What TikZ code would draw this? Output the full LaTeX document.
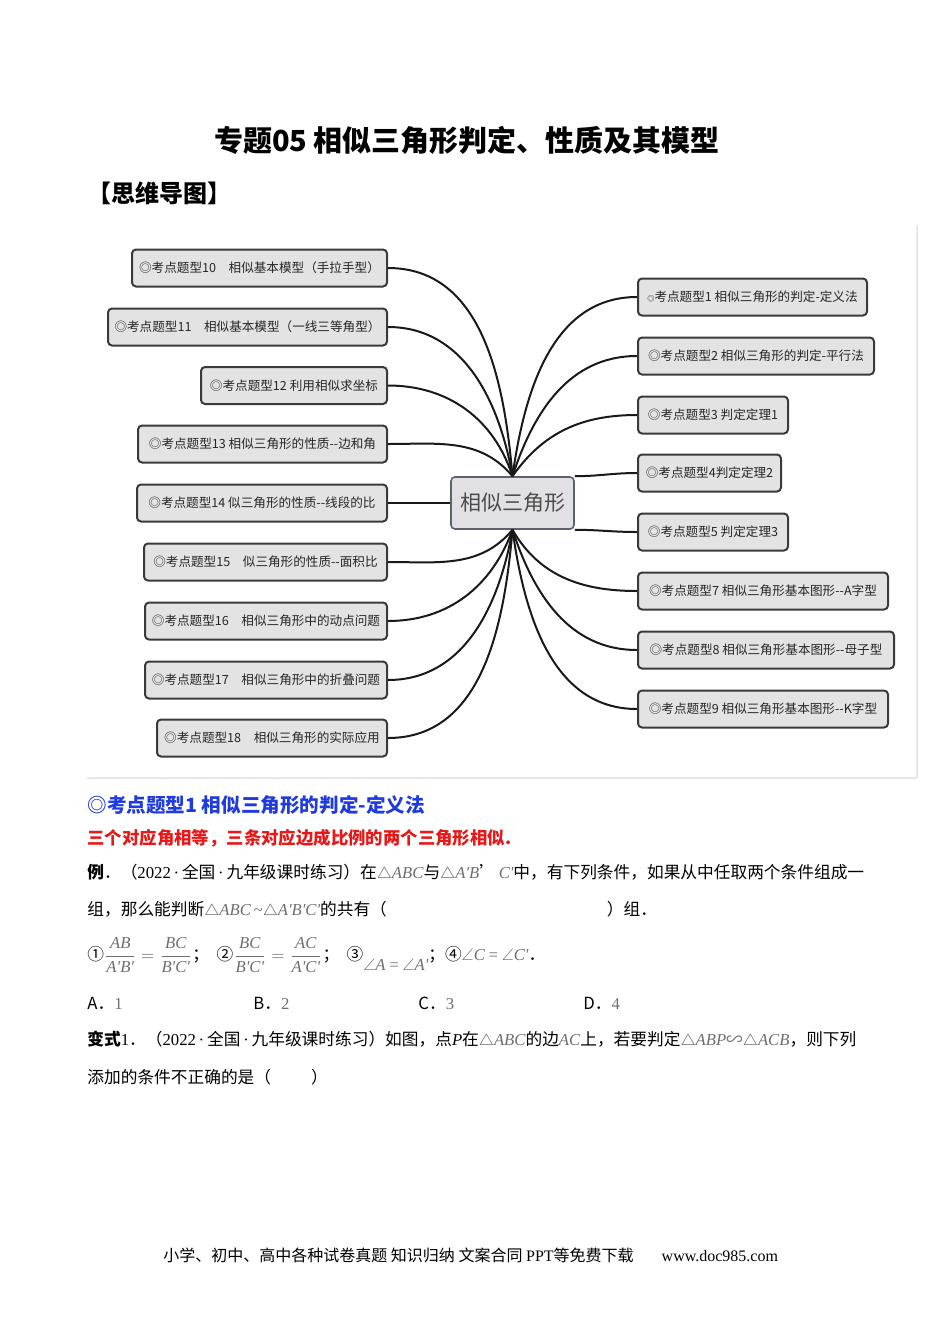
\documentclass[tikz,border=0pt]{standalone}
\usepackage{fontspec}
\usepackage{amsmath}
\usepackage{amssymb}
\setmainfont{Noto Sans CJK SC}
\newfontfamily\tms{Liberation Serif}
\usetikzlibrary{positioning}

\definecolor{boxfill}{HTML}{E3E3E3}
\definecolor{boxline}{HTML}{3A3A3A}
\definecolor{hubfill}{HTML}{E1E1E4}
\definecolor{hubline}{HTML}{5C6170}
\definecolor{headblue}{HTML}{1F3BE0}
\definecolor{rulered}{HTML}{E81818}
\definecolor{mathgray}{HTML}{6E6E6E}
\definecolor{framegray}{HTML}{E8E8E8}

% grey Times-like italic for the formula snippets
\newcommand{\mth}[1]{{\color{mathgray}\tms\itshape #1}}
\newcommand{\tri}{$\triangle$}
\newcommand{\ang}{$\angle$}
\newcommand{\dt}{{\tms\,·\,}}

\begin{document}
\begin{tikzpicture}[x=0.5pt, y=-0.5pt,
  topic/.style={rectangle, draw=boxline, line width=1pt, rounded corners=2pt, fill=boxfill,
    minimum height=18.5pt, inner xsep=0pt, text=black!85, font={\fontsize{6.3}{7}\selectfont}},
  hub/.style={rectangle, draw=hubline, line width=0.8pt, rounded corners=2pt, fill=hubfill,
    text=black!70, font={\fontsize{10.5}{12}\selectfont}},
  branch/.style={line width=1pt, draw=black!90},
  textline/.style={anchor=west, inner sep=0pt, font={\fontsize{8.35}{10}\selectfont}}]

\useasboundingbox (0,0) rectangle (950,1344);

% header
\node[font={\bfseries\fontsize{14.5}{16}\selectfont}] (title) at (467,140) {专题05 相似三角形判定、性质及其模型};
\node[textline, font={\bfseries\fontsize{12}{13}\selectfont}] (mm) at (87,193) {【思维导图】};

% mind map frame
\draw[framegray, line width=0.6pt] (87,778) -- (917,778) -- (917,225);

% hub
\node[hub, minimum width=61.5pt, minimum height=26pt] (c) at (512.5,503) {相似三角形};

% left topics
\node[topic, minimum width=127.5pt, anchor=east] (l10) at (388,268) {◎考点题型10\quad 相似基本模型（手拉手型）};
\node[topic, minimum width=139.5pt, anchor=east] (l11) at (388,327) {◎考点题型11\quad 相似基本模型（一线三等角型）};
\node[topic, minimum width=93pt, anchor=east] (l12) at (388,385.5) {◎考点题型12 利用相似求坐标};
\node[topic, minimum width=124.5pt, anchor=east] (l13) at (388,444) {◎考点题型13 相似三角形的性质-{}-边和角};
\node[topic, minimum width=125pt, anchor=east] (l14) at (388,503) {◎考点题型14 似三角形的性质-{}-线段的比};
\node[topic, minimum width=121.5pt, anchor=east] (l15) at (388,562) {◎考点题型15\quad 似三角形的性质-{}-面积比};
\node[topic, minimum width=121pt, anchor=east] (l16) at (388,621) {◎考点题型16\quad 相似三角形中的动点问题};
\node[topic, minimum width=121pt, anchor=east] (l17) at (388,680) {◎考点题型17\quad 相似三角形中的折叠问题};
\node[topic, minimum width=115pt, anchor=east] (l18) at (388,738) {◎考点题型18\quad 相似三角形的实际应用};

% right topics
\node[topic, minimum width=114.5pt, anchor=west] (r1) at (637,297) {{\fontsize{3.6}{4}\selectfont ◎}考点题型1 相似三角形的判定-定义法};
\node[topic, minimum width=118pt, anchor=west] (r2) at (637,356) {◎考点题型2 相似三角形的判定-平行法};
\node[topic, minimum width=75pt, anchor=west] (r3) at (637,415) {◎考点题型3 判定定理1};
\node[topic, minimum width=71.5pt, anchor=west] (r4) at (637,473) {◎考点题型4判定定理2};
\node[topic, minimum width=75pt, anchor=west] (r5) at (637,532) {◎考点题型5 判定定理3};
\node[topic, minimum width=125pt, anchor=west] (r7) at (637,591) {◎考点题型7 相似三角形基本图形-{}-A字型};
\node[topic, minimum width=128pt, anchor=west] (r8) at (637,650) {◎考点题型8 相似三角形基本图形-{}-母子型};
\node[topic, minimum width=125pt, anchor=west] (r9) at (637,709) {◎考点题型9 相似三角形基本图形-{}-K字型};

% branches
\draw[branch] (l10.east) to[out=0, in=95] (c.north);
\draw[branch] (l11.east) to[out=0, in=100] (c.north);
\draw[branch] (l12.east) to[out=0, in=108] (c.north);
\draw[branch] (l13.east) to[out=0, in=130] (c.north);
\draw[branch] (l14.east) -- (c.west);
\draw[branch] (c.south) to[out=-130, in=0] (l15.east);
\draw[branch] (c.south) to[out=-110, in=0] (l16.east);
\draw[branch] (c.south) to[out=-100, in=0] (l17.east);
\draw[branch] (c.south) to[out=-95, in=0] (l18.east);
\draw[branch] (c.north) to[out=82, in=180] (r1.west);
\draw[branch] (c.north) to[out=72, in=180] (r2.west);
\draw[branch] (c.north) to[out=55, in=180] (r3.west);
\draw[branch] (c.north east) to[out=0, in=180] (r4.west);
\draw[branch] (c.south east) to[out=0, in=180] (r5.west);
\draw[branch] (c.south) to[out=-60, in=180] (r7.west);
\draw[branch] (c.south) to[out=-72, in=180] (r8.west);
\draw[branch] (c.south) to[out=-82, in=180] (r9.west);

% worked example
\node[textline, text=headblue, font={\bfseries\fontsize{9.8}{11}\selectfont}] (h1) at (87,805) {◎考点题型1 相似三角形的判定-定义法};
\node[textline, text=rulered, font={\bfseries\fontsize{8.7}{10}\selectfont}] (rule) at (87,838) {三个对应角相等，三条对应边成比例的两个三角形相似.};
\node[textline] (ex1) at (87,873) {{\bfseries 例}．（{\tms 2022}\dt 全国\dt 九年级课时练习）在\mth{\tri ABC}与\mth{\tri A'B}’\,\mth{C'}中，有下列条件，如果从中任取两个条件组成一};
\node[textline] (ex2) at (87,910) {组，那么能判断\mth{\tri ABC\,\textasciitilde\tri A'B'C'}的共有（\hspace{110pt}）组．};
\node[textline] (cond) at (87,955) {①\mth{$\dfrac{\text{AB}}{\text{A'B'}}=\dfrac{\text{BC}}{\text{B'C'}}$}；\ \ ②\mth{$\dfrac{\text{BC}}{\text{B'C'}}=\dfrac{\text{AC}}{\text{A'C'}}$}；\ \ ③\raisebox{-5pt}{\mth{\ang A\,=\,\ang A'}}；④\mth{\ang C\,=\,\ang C'}．};
\node[textline] (optA) at (87,1003) {A．\mth{\upshape 1}};
\node[textline] (optB) at (253,1003) {B．\mth{\upshape 2}};
\node[textline] (optC) at (418,1003) {C．\mth{\upshape 3}};
\node[textline] (optD) at (583,1003) {D．\mth{\upshape 4}};
\node[textline] (var1) at (87,1040) {{\bfseries 变式}{\tms 1}．（{\tms 2022}\dt 全国\dt 九年级课时练习）如图，点{\tms\itshape P}在\mth{\tri ABC}的边\mth{AC}上，若要判定\mth{\tri ABP}{\color{mathgray}∽}\mth{\tri ACB}，则下列};
\node[textline] (var2) at (87,1077) {添加的条件不正确的是（\hspace{20pt}）};

% footer
\node[textline, font={\fontsize{8}{9}\selectfont}] (foot) at (163,1255) {小学、初中、高中各种试卷真题 知识归纳 文案合同 {\tms PPT}等免费下载\hspace{14pt}{\tms www.doc985.com}};

\end{tikzpicture}
\end{document}
